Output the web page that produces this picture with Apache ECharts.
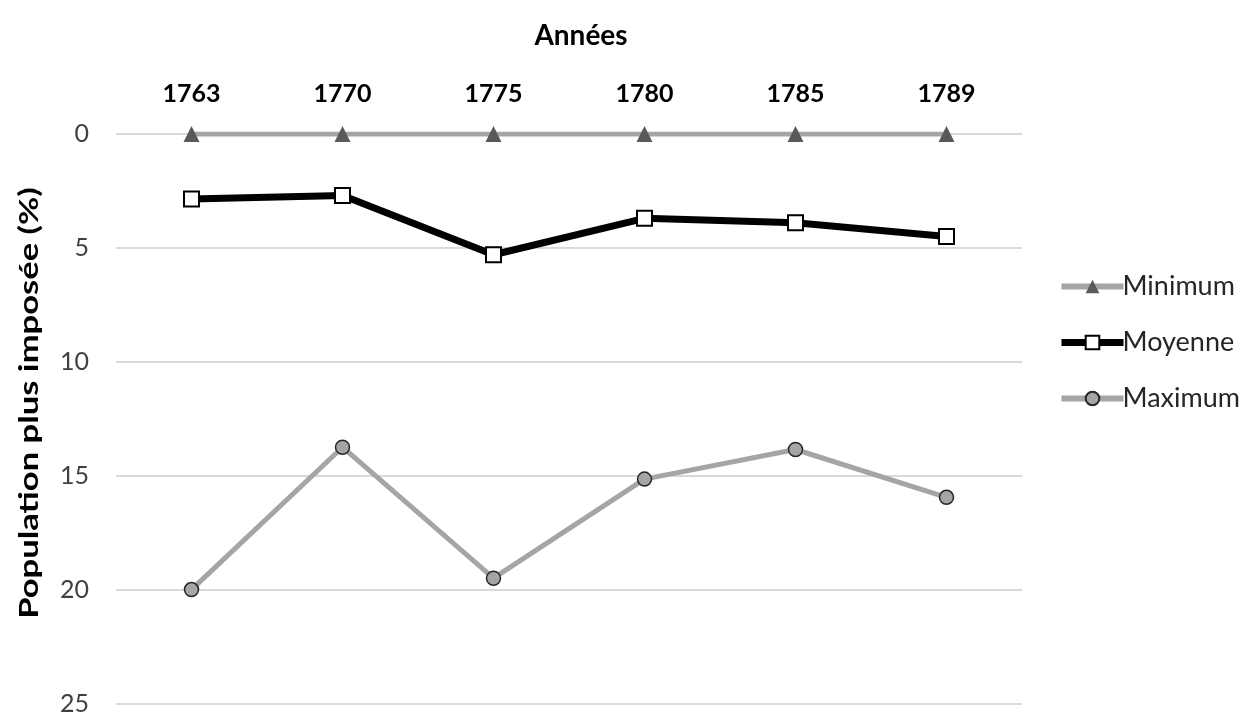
<!DOCTYPE html>
<html>
<head>
<meta charset="utf-8">
<script src="https://cdn.jsdelivr.net/npm/echarts@6/dist/echarts.min.js"></script>
<style>
  html, body { margin: 0; padding: 0; background: #fff; }
  #chart { width: 1241px; height: 716px; }
</style>
</head>
<body>
<div id="chart"></div>
<script>
// Années observées
var years = ['1763', '1770', '1775', '1780', '1785', '1789'];
// Part de la population la plus imposée (%)
var minimum = [0, 0, 0, 0, 0, 0];
var moyenne = [2.85, 2.7, 5.3, 3.7, 3.9, 4.5];
var maximum = [20.0, 13.75, 19.5, 15.15, 13.85, 15.95];
var yTicks = [0, 5, 10, 15, 20, 25];

var FONT = 'Lato, "Open Sans", sans-serif';
var chart = echarts.init(document.getElementById('chart'), null, { renderer: 'canvas' });

chart.setOption({
  animation: false,
  backgroundColor: '#ffffff',
  grid: { left: 116, right: 219, top: 134, bottom: 11, containLabel: false },
  legend: {
    orient: 'vertical',
    left: 1053,
    top: 268,
    itemWidth: 62,
    itemHeight: 17,
    itemGap: 29,
    textStyle: { fontFamily: FONT, fontSize: 27, color: '#262626', padding: [0, 0, 0, -6] },
    data: [
      { name: 'Minimum', lineStyle: { width: 6, color: '#a5a5a5' } },
      { name: 'Moyenne', lineStyle: { width: 7, color: '#000000' } },
      { name: 'Maximum', lineStyle: { width: 6, color: '#a5a5a5' } }
    ]
  },
  graphic: [{
    type: 'text',
    x: 29,
    y: 403,
    rotation: Math.PI / 2,
    scaleX: 1.28,
    style: {
      text: 'Population plus imposée (%)',
      fontFamily: FONT,
      fontSize: 27,
      fontWeight: 'bold',
      fill: '#000000',
      align: 'center',
      verticalAlign: 'middle'
    }
  }],
  xAxis: {
    type: 'category',
    position: 'top',
    data: years,
    boundaryGap: true,
    name: 'Années',
    nameLocation: 'middle',
    nameGap: 84,
    nameTextStyle: { fontFamily: FONT, fontSize: 28, fontWeight: 'bold', color: '#000', padding: [0, 0, 0, 24] },
    axisLine: { show: false },
    axisTick: { show: false },
    axisLabel: { fontFamily: FONT, fontSize: 25, fontWeight: 'bold', color: '#000', margin: 28 }
  },
  yAxis: {
    type: 'value',
    inverse: true,
    min: 0,
    max: 25,
    interval: 5,
    axisLine: { show: false },
    axisTick: { show: false },
    axisLabel: {
      fontFamily: FONT, fontSize: 25, color: '#404040', margin: 27,
      formatter: function (v) { return yTicks.indexOf(v) >= 0 ? String(v) : ''; }
    },
    splitLine: { lineStyle: { color: '#d9d9d9', width: 2 } }
  },
  series: [
    {
      name: 'Minimum',
      type: 'line',
      data: minimum,
      z: 3,
      lineStyle: { color: '#a5a5a5', width: 5 },
      itemStyle: { color: '#595959', borderWidth: 0 },
      symbol: 'triangle',
      symbolSize: 16,
      showAllSymbol: true
    },
    {
      name: 'Moyenne',
      type: 'line',
      data: moyenne,
      z: 4,
      lineStyle: { color: '#000000', width: 7 },
      itemStyle: { color: '#ffffff', borderColor: '#000000', borderWidth: 2 },
      symbol: 'rect',
      symbolSize: 15,
      showAllSymbol: true
    },
    {
      name: 'Maximum',
      type: 'line',
      data: maximum,
      z: 3,
      lineStyle: { color: '#a5a5a5', width: 5 },
      itemStyle: { color: '#a5a5a5', borderColor: '#262626', borderWidth: 1.5 },
      symbol: 'circle',
      symbolSize: 14,
      showAllSymbol: true
    }
  ]
});
</script>
</body>
</html>
